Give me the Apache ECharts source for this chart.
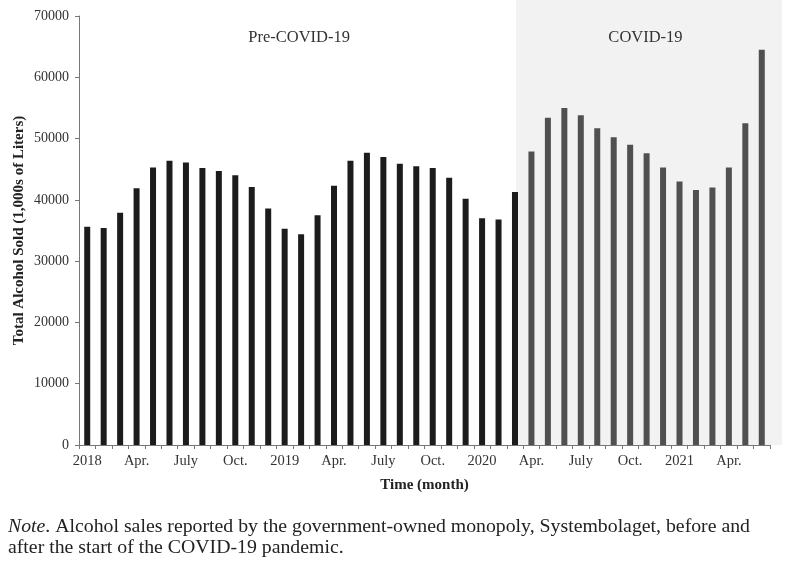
<!DOCTYPE html>
<html><head><meta charset="utf-8">
<script src="https://cdn.jsdelivr.net/npm/echarts@6/dist/echarts.min.js"></script>
<style>html,body{margin:0;padding:0;background:#fff}#c{width:787px;height:567px}</style>
</head><body><div id="c"></div>
<script>
const months = ['2018-01','2018-02','2018-03','2018-04','2018-05','2018-06','2018-07','2018-08','2018-09','2018-10','2018-11','2018-12',
'2019-01','2019-02','2019-03','2019-04','2019-05','2019-06','2019-07','2019-08','2019-09','2019-10','2019-11','2019-12',
'2020-01','2020-02','2020-03','2020-04','2020-05','2020-06','2020-07','2020-08','2020-09','2020-10','2020-11','2020-12',
'2021-01','2021-02','2021-03','2021-04','2021-05','2021-06'];
const tickLabels = ['2018','Apr.','July','Oct.','2019','Apr.','July','Oct.','2020','Apr.','July','Oct.','2021','Apr.'];
const preCovid = [35600,35400,37900,41900,45300,46400,46100,45200,44700,44000,42100,38600,
35300,34400,37500,42300,46400,47700,47000,45900,45500,45200,43600,40200,
37000,36800,41300];
const covid = [47900,53400,55000,53800,51700,50200,49000,47600,45300,43000,41600,42000,45300,52500,64500];
const periodLabels = ['Pre-COVID-19','COVID-19'];
const covidStart = '2020-03';

const font = '"Liberation Serif", "Times New Roman", serif';
const chart = echarts.init(document.getElementById('c'));
const data = preCovid.map(v => ({value: v, itemStyle: {color: '#1c1c1c'}}))
  .concat(covid.map(v => ({value: v, itemStyle: {color: '#505050'}})));

chart.setOption({
  animation: false,
  textStyle: {fontFamily: font},
  grid: {left: 79, right: 17, top: 16, bottom: 122},
  xAxis: {
    type: 'category', data: months,
    name: 'Time (month)', nameLocation: 'middle', nameGap: 33,
    nameTextStyle: {fontFamily: font, fontSize: 15, fontWeight: 'bold', color: '#222'},
    axisLine: {lineStyle: {color: '#777', width: 1}},
    axisTick: {show: true, interval: 0, length: 4, lineStyle: {color: '#777'}},
    axisLabel: {interval: 2, margin: 9, fontFamily: font, fontSize: 14.5, color: '#333',
      formatter: (v, i) => tickLabels[Math.floor(i / 3)] || ''}
  },
  yAxis: {
    type: 'value', min: 0, max: 70000, interval: 10000,
    name: 'Total Alcohol Sold (1,000s of Liters)', nameLocation: 'middle', nameGap: 52,
    nameMoveOverlap: false,
    nameTextStyle: {fontFamily: font, fontSize: 15, fontWeight: 'bold', color: '#222'},
    axisLine: {show: true, lineStyle: {color: '#777'}},
    axisTick: {show: true, length: 4, lineStyle: {color: '#777'}},
    splitLine: {show: false},
    axisLabel: {fontFamily: font, fontSize: 14, color: '#333', margin: 10, formatter: v => String(v)}
  },
  series: [{type: 'bar', data: data, barWidth: 6, z: 3}]
});

const xs = chart.convertToPixel({xAxisIndex: 0}, covidStart);
const yTop = chart.convertToPixel({yAxisIndex: 0}, 70000);
const y0 = chart.convertToPixel({yAxisIndex: 0}, 0);
const xLeft = chart.convertToPixel({xAxisIndex: 0}, months[0]) - 8;
const W = chart.getWidth();
const xRight = W - 5;
chart.setOption({
  graphic: [
    {type: 'rect', z: 0, silent: true, shape: {x: xs + 1, y: 0, width: xRight - xs - 1, height: y0}, style: {fill: '#f2f2f2'}},
    {type: 'text', z: 5, x: (xLeft + xs) / 2 + 2, y: yTop + 22, style: {text: periodLabels[0], font: '16.5px ' + font, fill: '#333', textAlign: 'center', textVerticalAlign: 'middle'}},
    {type: 'text', z: 5, x: (xs + xRight) / 2 - 3, y: yTop + 22, style: {text: periodLabels[1], font: '16.5px ' + font, fill: '#333', textAlign: 'center', textVerticalAlign: 'middle'}},
    {type: 'text', z: 5, left: 8, top: 516, style: {
      text: '{i|Note}. Alcohol sales reported by the government-owned monopoly, Systembolaget, before and\nafter the start of the COVID-19 pandemic.',
      font: '19.8px ' + font, fill: '#222', lineHeight: 21,
      rich: {i: {fontStyle: 'italic', fontFamily: font, fontSize: 19.8, fill: '#222', lineHeight: 21}}}}
  ]
});
</script></body></html>
